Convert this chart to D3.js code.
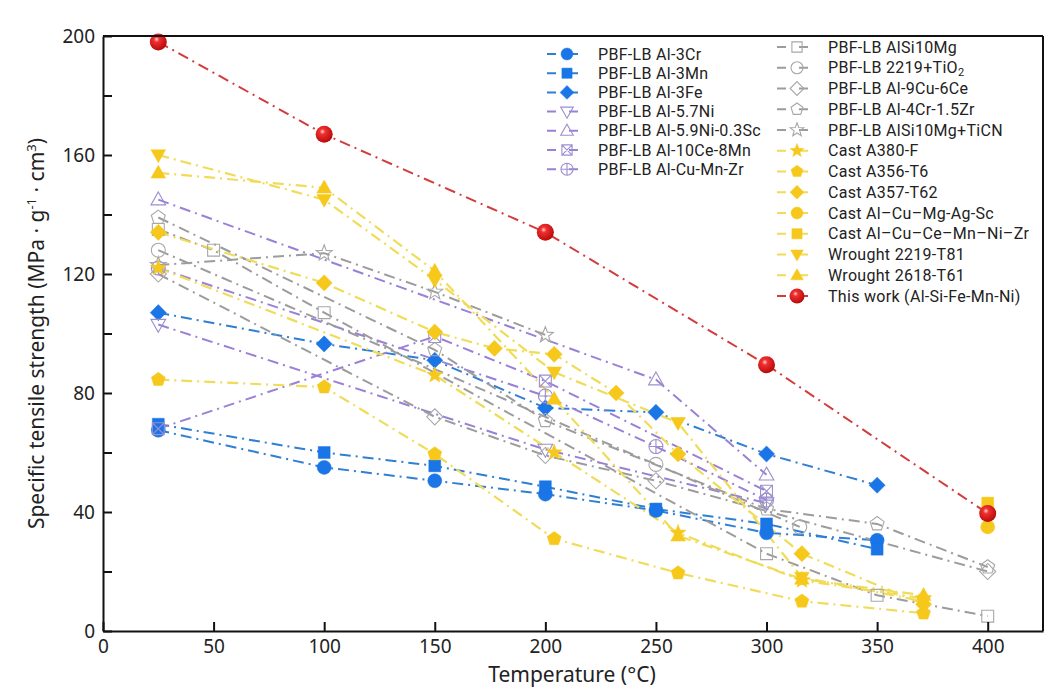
<!DOCTYPE html>
<html>
<head>
<meta charset="utf-8">
<script src="https://cdn.jsdelivr.net/npm/d3@7"></script>
<style>
  body { margin: 0; background: #fff; }
  svg { font-family: "Noto Sans", "DejaVu Sans", sans-serif; }
</style>
</head>
<body>
<svg id="canvas"></svg>
<script>
// series values: [temperature °C, specific strength]
let al3Cr      = [[25, 67.5], [100, 55], [150, 50.5], [200, 46], [250, 40.5], [300, 33], [350, 30.5]];
let al3Mn      = [[25, 69.5], [100, 60], [150, 55.5], [200, 48.5], [250, 41], [300, 36], [350, 27.5]];
let al3Fe      = [[25, 107], [100, 96.5], [150, 91], [200, 75], [250, 73.5], [300, 59.5], [350, 49]];
let al57Ni     = [[25, 103], [200, 61], [300, 43]];
let al59NiSc   = [[25, 145], [250, 84.5], [300, 52.5]];
let al10Ce8Mn  = [[25, 68], [150, 99], [200, 84], [300, 47]];
let alCuMnZr   = [[25, 122], [200, 79], [250, 62], [300, 44]];
let alSi10Mg   = [[25, 135], [50, 128], [100, 107], [300, 26], [350, 12], [400, 5]];
let tiO2_2219  = [[25, 128], [250, 56], [315, 35]];
let al9Cu6Ce   = [[25, 120], [150, 72], [200, 59], [250, 50.5], [400, 20]];
let al4Cr15Zr  = [[25, 139], [150, 94.5], [200, 70.7], [300, 41], [350, 36], [400, 21.5]];
let alSiTiCN   = [[25, 123], [100, 127], [150, 114], [200, 99.5]];
let castA380   = [[25, 122], [150, 86], [204, 60], [260, 33], [316, 17], [371, 11]];
let castA356   = [[25, 84.5], [100, 82], [150, 59.5], [204, 31], [260, 19.5], [316, 10], [371, 6]];
let castA357   = [[25, 134], [100, 117], [150, 100.5], [177, 95], [204, 93], [232, 80], [260, 59.5], [316, 26], [371, 9]];
let castCuMgAgSc = [[400, 35]];
let castCuCeMnNiZr = [[400, 43]];
let wr2219     = [[25, 160], [100, 145], [150, 118], [204, 87], [260, 70], [316, 18], [371, 10]];
let wr2618     = [[25, 154], [100, 149], [150, 121], [204, 78], [260, 32], [316, 17.5], [371, 12]];
let thisWork   = [[25, 198], [100, 167], [200, 134], [300, 89.5], [400, 39.5]];

let xTicks = [0, 50, 100, 150, 200, 250, 300, 350, 400];
let yTicks = [0, 20, 40, 60, 80, 100, 120, 140, 160, 180, 200];

let width = 1064;
let height = 695;
let padLeft = 103, padRight = 1043, padTop = 36, padBottom = 631;

let colors = {
    blue:   { line: '#2f7fd2', fill: '#1a75e6', stroke: '#1a75e6' },
    purple: { line: '#9a80d6', fill: 'none', stroke: '#9c8fcf' },
    gray:   { line: '#9c9c9c', fill: 'none', stroke: '#a8a8a8' },
    yellow: { line: '#f0dc58', fill: '#f6c81c', stroke: '#f6c81c' },
    red:    { line: '#d23c3c', fill: 'url(#ball)', stroke: 'none' }
};

let series = [
    { name: 'PBF-LB Al-3Cr', data: al3Cr, group: 'blue', shape: 'circle' },
    { name: 'PBF-LB Al-3Mn', data: al3Mn, group: 'blue', shape: 'square' },
    { name: 'PBF-LB Al-3Fe', data: al3Fe, group: 'blue', shape: 'diamond' },
    { name: 'PBF-LB Al-5.7Ni', data: al57Ni, group: 'purple', shape: 'triDown' },
    { name: 'PBF-LB Al-5.9Ni-0.3Sc', data: al59NiSc, group: 'purple', shape: 'triUp' },
    { name: 'PBF-LB Al-10Ce-8Mn', data: al10Ce8Mn, group: 'purple', shape: 'squareX' },
    { name: 'PBF-LB Al-Cu-Mn-Zr', data: alCuMnZr, group: 'purple', shape: 'circlePlus' },
    { name: 'PBF-LB AlSi10Mg', data: alSi10Mg, group: 'gray', shape: 'square' },
    { name: 'PBF-LB 2219+TiO', sub: '2', data: tiO2_2219, group: 'gray', shape: 'circle' },
    { name: 'PBF-LB Al-9Cu-6Ce', data: al9Cu6Ce, group: 'gray', shape: 'diamond' },
    { name: 'PBF-LB Al-4Cr-1.5Zr', data: al4Cr15Zr, group: 'gray', shape: 'pentagon' },
    { name: 'PBF-LB AlSi10Mg+TiCN', data: alSiTiCN, group: 'gray', shape: 'star' },
    { name: 'Cast A380-F', data: castA380, group: 'yellow', shape: 'star' },
    { name: 'Cast A356-T6', data: castA356, group: 'yellow', shape: 'pentagon' },
    { name: 'Cast A357-T62', data: castA357, group: 'yellow', shape: 'diamond' },
    { name: 'Cast Al\u2013Cu\u2013Mg-Ag-Sc', data: castCuMgAgSc, group: 'yellow', shape: 'circle' },
    { name: 'Cast Al\u2013Cu\u2013Ce\u2013Mn\u2013Ni\u2013Zr', data: castCuCeMnNiZr, group: 'yellow', shape: 'square' },
    { name: 'Wrought 2219-T81', data: wr2219, group: 'yellow', shape: 'triDown' },
    { name: 'Wrought 2618-T61', data: wr2618, group: 'yellow', shape: 'triUp' },
    { name: 'This work  (Al-Si-Fe-Mn-Ni)', data: thisWork, group: 'red', shape: 'ball' }
];

let canvas = d3.select('#canvas')
    .attr('width', width)
    .attr('height', height);

let grad = canvas.append('defs').append('radialGradient')
    .attr('id', 'ball')
    .attr('cx', '40%').attr('cy', '35%').attr('r', '65%');
grad.append('stop').attr('offset', '0%').attr('stop-color', '#ffd0d0');
grad.append('stop').attr('offset', '25%').attr('stop-color', '#f03030');
grad.append('stop').attr('offset', '100%').attr('stop-color', '#b80a0a');

let xScale = d3.scaleLinear().domain([0, 425]).range([padLeft, padRight]);
let yScale = d3.scaleLinear().domain([0, 200]).range([padBottom, padTop]);

// marker path for a given shape, centred on 0,0
let shapePath = (shape, r) => {
    let p = d3.path();
    if (shape === 'circle' || shape === 'ball') {
        p.arc(0, 0, r, 0, 2 * Math.PI);
    } else if (shape === 'square') {
        p.rect(-r * 0.85, -r * 0.85, r * 1.7, r * 1.7);
    } else if (shape === 'diamond') {
        p.moveTo(0, -r * 1.15); p.lineTo(r * 1.15, 0); p.lineTo(0, r * 1.15); p.lineTo(-r * 1.15, 0); p.closePath();
    } else if (shape === 'triUp') {
        p.moveTo(0, -r * 1.1); p.lineTo(r * 1.05, r * 0.75); p.lineTo(-r * 1.05, r * 0.75); p.closePath();
    } else if (shape === 'triDown') {
        p.moveTo(0, r * 1.1); p.lineTo(r * 1.05, -r * 0.75); p.lineTo(-r * 1.05, -r * 0.75); p.closePath();
    } else if (shape === 'pentagon') {
        for (let i = 0; i < 5; i++) {
            let a = -Math.PI / 2 + i * 2 * Math.PI / 5;
            let px = Math.cos(a) * r * 1.05, py = Math.sin(a) * r * 1.05;
            if (i === 0) p.moveTo(px, py); else p.lineTo(px, py);
        }
        p.closePath();
    } else if (shape === 'star') {
        for (let i = 0; i < 10; i++) {
            let a = -Math.PI / 2 + i * Math.PI / 5;
            let rr = i % 2 === 0 ? r * 1.2 : r * 0.5;
            if (i === 0) p.moveTo(Math.cos(a) * rr, Math.sin(a) * rr); else p.lineTo(Math.cos(a) * rr, Math.sin(a) * rr);
        }
        p.closePath();
    } else if (shape === 'squareX') {
        let s = r * 0.85;
        p.rect(-s, -s, 2 * s, 2 * s);
        p.moveTo(-s, -s); p.lineTo(s, s);
        p.moveTo(s, -s); p.lineTo(-s, s);
    } else if (shape === 'circlePlus') {
        p.arc(0, 0, r, 0, 2 * Math.PI);
        p.moveTo(-r, 0); p.lineTo(r, 0);
        p.moveTo(0, -r); p.lineTo(0, r);
    }
    return p.toString();
};

let markerSize = s => s.shape === 'ball' ? 8.5 : 7;

let drawMarker = (sel, s, r) => {
    let c = colors[s.group];
    sel.append('path')
        .attr('d', shapePath(s.shape, r))
        .attr('fill', c.fill)
        .attr('stroke', c.stroke)
        .attr('stroke-width', c.fill === 'none' ? 1.1 : 0.5);
};

let lineGen = d3.line()
    .x(d => xScale(d[0]))
    .y(d => yScale(d[1]));

let drawLines = () => {
    let g = canvas.append('g').attr('class', 'lines');
    series.forEach(s => {
        g.append('path')
            .datum(s.data)
            .attr('d', lineGen)
            .attr('fill', 'none')
            .attr('stroke', colors[s.group].line)
            .attr('stroke-width', s.group === 'yellow' ? 2.2 : 2)
            .attr('stroke-dasharray', '11 5 2 5');
    });
};

let drawPoints = () => {
    let g = canvas.append('g').attr('class', 'points');
    series.forEach(s => {
        s.data.forEach(d => {
            let m = g.append('g')
                .attr('transform', `translate(${xScale(d[0])}, ${yScale(d[1])})`);
            drawMarker(m, s, markerSize(s));
        });
    });
};

let drawAxes = () => {
    let xAxis = d3.axisBottom(xScale)
        .tickValues(xTicks)
        .tickSizeInner(-9)
        .tickSizeOuter(0)
        .tickPadding(9);
    let yAxis = d3.axisLeft(yScale)
        .tickValues(yTicks)
        .tickFormat(d => d % 40 === 0 ? d : '')
        .tickSizeInner(-9)
        .tickSizeOuter(0)
        .tickPadding(8);

    canvas.append('line')
        .attr('x1', padLeft).attr('x2', padRight).attr('y1', padTop).attr('y2', padTop)
        .attr('stroke', '#111').attr('stroke-width', 2);
    canvas.append('line')
        .attr('x1', padRight).attr('x2', padRight).attr('y1', padTop).attr('y2', padBottom)
        .attr('stroke', '#111').attr('stroke-width', 2);

    let gx = canvas.append('g')
        .attr('transform', `translate(0, ${padBottom})`)
        .call(xAxis);
    let gy = canvas.append('g')
        .attr('transform', `translate(${padLeft}, 0)`)
        .call(yAxis);

    [gx, gy].forEach(g => {
        g.select('.domain').attr('stroke', '#111').attr('stroke-width', 2);
        g.selectAll('.tick line').attr('stroke', '#111').attr('stroke-width', 2);
        g.selectAll('.tick text')
            .attr('fill', '#222')
            .style('font-size', '19px')
            .style('font-family', '"Noto Sans", sans-serif');
    });

    canvas.append('text')
        .attr('x', (padLeft + padRight) / 2 - 1)
        .attr('y', 682)
        .attr('text-anchor', 'middle')
        .style('font-size', '21px')
        .attr('fill', '#222')
        .text('Temperature (°C)');

    let yt = canvas.append('text')
        .attr('transform', `translate(44, ${(padTop + padBottom) / 2}) rotate(-90)`)
        .attr('text-anchor', 'middle')
        .style('font-size', '21px')
        .attr('fill', '#222');
    yt.append('tspan').text('Specific tensile strength (MPa \u00b7 g');
    yt.append('tspan').attr('dy', -8).style('font-size', '13px').text('-1');
    yt.append('tspan').attr('dy', 8).text(' \u00b7 cm');
    yt.append('tspan').attr('dy', -8).style('font-size', '13px').text('3');
    yt.append('tspan').attr('dy', 8).text(')');
};

let drawLegend = () => {
    let g = canvas.append('g').attr('class', 'legend');
    series.forEach((s, i) => {
        let col = i < 7 ? 0 : 1;
        let row = col === 0 ? i : i - 7;
        let x0 = col === 0 ? 547 : 777;
        let y0 = col === 0 ? 54 + row * 19.2 : 47 + row * 20.75;
        let item = g.append('g').attr('transform', `translate(${x0}, ${y0})`);
        item.append('line')
            .attr('x1', 0).attr('x2', 40)
            .attr('stroke', colors[s.group].line)
            .attr('stroke-width', 2)
            .attr('stroke-dasharray', '9 13 9');
        let m = item.append('g').attr('transform', 'translate(20, 0)');
        drawMarker(m, s, s.shape === 'ball' ? 7.5 : 6);
        let t = item.append('text')
            .attr('x', 51)
            .attr('y', 5.5)
            .style('font-family', 'Roboto, "Noto Sans", sans-serif')
            .style('font-size', '16px')
            .style('letter-spacing', '0.3px')
            .attr('fill', '#222')
            .text(s.name);
        if (s.sub) {
            t.append('tspan').attr('dy', 3).style('font-size', '11px').text(s.sub);
        }
    });
};

drawLines();
drawPoints();
drawAxes();
drawLegend();
</script>
</body>
</html>
